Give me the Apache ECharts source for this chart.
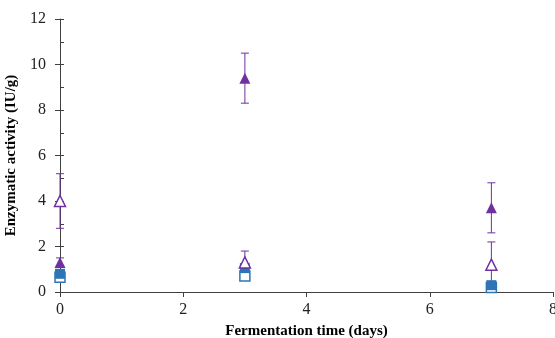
<!DOCTYPE html>
<html>
<head>
<meta charset="utf-8">
<script src="https://cdn.jsdelivr.net/npm/echarts@6/dist/echarts.min.js"></script>
<style>
  html, body { margin: 0; padding: 0; background: #fff; }
  #chart { width: 555px; height: 338px; }
</style>
</head>
<body>
<div id="chart"></div>
<script>
// fermentation days
const days = [0, 3, 7]

// purple triangles
const triFilled = [1.3, 9.4, 3.7]
const triFilledErr = [0.2, 1.1, 1.1]
const triOpen = [4.0, 1.3, 1.2]
const triOpenErr = [1.2, 0.5, 1.0]

// blue squares
const sqFilled = [0.8, 1.05, 0.3]
const sqFilledErr = [0.15, 0.15, 0.05]
const sqOpen = [0.65, 0.7, 0.2]
const sqOpenErr = [0.1, 0.1, 0.05]

const yTicks = [0, 2, 4, 6, 8, 10, 12]
const xTicks = [0, 2, 4, 6, 8]

const purple = '#7030a0'
const blue = '#2e75b6'
const font = 'Liberation Serif'

function points(vals) {
    return days.map((d, i) => [d, vals[i]])
}
function errData(vals, errs) {
    return days.map((d, i) => [d, vals[i] - errs[i], vals[i] + errs[i]])
}
function errSeries(vals, errs, color) {
    return {
        type: 'custom',
        z: 1,
        silent: true,
        data: errData(vals, errs),
        renderItem: function (params, api) {
            let lo = api.coord([api.value(0), api.value(1)])
            let hi = api.coord([api.value(0), api.value(2)])
            let w = 4
            let style = { stroke: color, lineWidth: 1 }
            return {
                type: 'group',
                children: [
                    { type: 'line', shape: { x1: lo[0], y1: lo[1], x2: hi[0], y2: hi[1] }, style: style },
                    { type: 'line', shape: { x1: lo[0] - w, y1: lo[1], x2: lo[0] + w, y2: lo[1] }, style: style },
                    { type: 'line', shape: { x1: hi[0] - w, y1: hi[1], x2: hi[0] + w, y2: hi[1] }, style: style }
                ]
            }
        }
    }
}

let chart = echarts.init(document.getElementById('chart'))
let option = {
    animation: false,
    textStyle: { fontFamily: font },
    grid: { left: 60, right: 2, top: 19, bottom: 46, containLabel: false, outerBoundsMode: 'none' },
    xAxis: {
        type: 'value',
        min: xTicks[0],
        max: xTicks[xTicks.length - 1],
        interval: 2,
        name: 'Fermentation time (days)',
        nameLocation: 'middle',
        nameGap: 32,
        nameTextStyle: { fontFamily: font, fontWeight: 'bold', fontSize: 15, color: '#000' },
        axisLine: { lineStyle: { color: '#404040' } },
        axisTick: { length: 5, lineStyle: { color: '#404040' } },
        axisLabel: { fontFamily: font, fontSize: 16, color: '#222', margin: 10 },
        splitLine: { show: false }
    },
    yAxis: [{
        type: 'value',
        min: yTicks[0],
        max: yTicks[yTicks.length - 1],
        interval: 2,
        name: 'Enzymatic activity (IU/g)',
        nameLocation: 'middle',
        nameGap: 37,
        nameTextStyle: { fontFamily: font, fontWeight: 'bold', fontSize: 15, color: '#000' },
        axisLine: { show: true, lineStyle: { color: '#404040' } },
        axisTick: { show: true, length: 5, lineStyle: { color: '#404040' } },
        axisLabel: { fontFamily: font, fontSize: 16, color: '#222', margin: 14 },
        splitLine: { show: false }
    }, {
        type: 'value',
        position: 'left',
        min: 0,
        max: 12,
        interval: 1,
        axisLine: { show: false },
        axisTick: { show: true, inside: true, length: 4, lineStyle: { color: '#404040' } },
        axisLabel: { show: false },
        splitLine: { show: false }
    }],
    series: [
        errSeries(triFilled, triFilledErr, purple),
        errSeries(triOpen, triOpenErr, purple),
        errSeries(sqFilled, sqFilledErr, blue),
        errSeries(sqOpen, sqOpenErr, blue),
        {
            type: 'scatter', z: 2, symbol: 'rect', symbolSize: 10,
            data: points(sqOpen),
            itemStyle: { color: '#fff', borderColor: blue, borderWidth: 1.5, opacity: 1 }
        },
        {
            type: 'scatter', z: 3, symbol: 'rect', symbolSize: 10,
            data: points(sqFilled),
            itemStyle: { color: blue, opacity: 1 }
        },
        {
            type: 'scatter', z: 4, symbol: 'triangle', symbolSize: 11,
            data: points(triOpen),
            itemStyle: { color: '#fff', borderColor: purple, borderWidth: 1.5, opacity: 1 }
        },
        {
            type: 'scatter', z: 5, symbol: 'triangle', symbolSize: 11,
            data: points(triFilled),
            itemStyle: { color: purple, opacity: 1 }
        }
    ]
}
chart.setOption(option)
</script>
</body>
</html>
